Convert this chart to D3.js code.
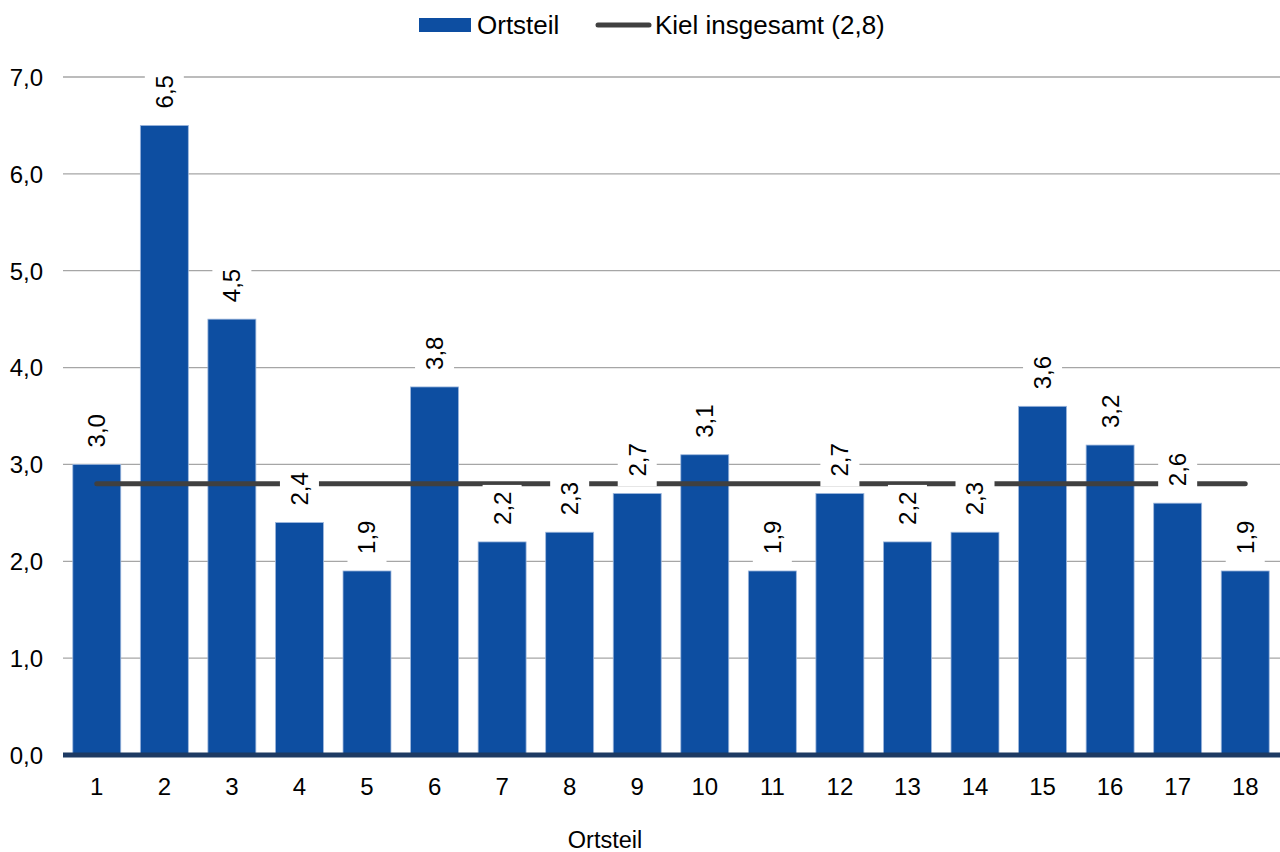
<!DOCTYPE html>
<html><head><meta charset="utf-8">
<script src="https://cdn.jsdelivr.net/npm/d3@7"></script>
<style>body{margin:0;background:#fff}svg{display:block;font-family:"Liberation Sans",Arial,sans-serif}</style>
</head><body><svg id="c" width="1280" height="852"></svg>
<script>
const categories = ["1","2","3","4","5","6","7","8","9","10","11","12","13","14","15","16","17","18"];
const ortsteilValues = [3.0,6.5,4.5,2.4,1.9,3.8,2.2,2.3,2.7,3.1,1.9,2.7,2.2,2.3,3.6,3.2,2.6,1.9];
const kielTotal = 2.8;
const yTicks = [0,1,2,3,4,5,6,7];
const seriesNames = ["Ortsteil","Kiel insgesamt (2,8)"];
const xTitle = "Ortsteil";

const FS = 24;
const fmt = v => d3.format(".1f")(v).replace(".", ",");
const svg = d3.select("#c");
const L = 63, R = 1279, T = 77, B = 755;
const x = d3.scaleBand().domain(categories).range([L, R]).paddingInner(0.29).paddingOuter(0.145);
const y = d3.scaleLinear().domain([0, 7]).range([B, T]);

// gridlines
svg.append("g").selectAll("line").data(yTicks.filter(d => d > 0)).join("line")
  .attr("x1", L).attr("x2", 1280).attr("y1", d => y(d)).attr("y2", d => y(d))
  .attr("stroke", "#a6a6a6").attr("stroke-width", 1.3);

// y axis labels
const yAxis = d3.axisLeft(y).tickValues(yTicks).tickFormat(fmt).tickSize(0).tickPadding(0);
const ya = svg.append("g").attr("transform", `translate(43,0)`).call(yAxis);
ya.select(".domain").remove();
ya.selectAll("text").attr("font-size", FS).attr("fill", "#000").attr("font-family", "Liberation Sans, Arial, sans-serif").attr("dy", "0.35em");

// bars
svg.append("g").selectAll("rect").data(ortsteilValues).join("rect")
  .attr("x", (d, i) => x(categories[i])).attr("width", x.bandwidth())
  .attr("y", d => y(d)).attr("height", d => B - y(d))
  .attr("fill", "#0d4ea1").attr("stroke", "#9db7dd").attr("stroke-width", 0.8);

// Kiel line
svg.append("line")
  .attr("x1", x(categories[0]) + x.bandwidth() / 2)
  .attr("x2", x(categories[categories.length - 1]) + x.bandwidth() / 2)
  .attr("y1", y(kielTotal)).attr("y2", y(kielTotal))
  .attr("stroke", "#404040").attr("stroke-width", 5).attr("stroke-linecap", "round");

// labels with white boxes
const lg = svg.append("g");
ortsteilValues.forEach((v, i) => {
  const cx = x(categories[i]) + x.bandwidth() / 2;
  const base = y(v) - 17;
  const tw = 34;
  lg.append("rect").attr("x", cx - 19.5).attr("width", 39)
    .attr("y", base - tw - 6).attr("height", tw + 6 + 10).attr("fill", "#fff");
  lg.append("text").attr("transform", `translate(${cx},${base}) rotate(-90)`)
    .attr("dy", "0.35em").attr("font-size", FS).attr("fill", "#000").text(fmt(v));
});

// baseline
svg.append("line").attr("x1", L).attr("x2", 1280).attr("y1", B).attr("y2", B)
  .attr("stroke", "#1d3a63").attr("stroke-width", 5);

// x axis labels
const xAxis = d3.axisBottom(x).tickSize(0).tickPadding(0);
const xa = svg.append("g").attr("transform", `translate(0,${787})`).call(xAxis);
xa.select(".domain").remove();
xa.selectAll("text").attr("font-size", FS).attr("fill", "#000").attr("font-family", "Liberation Sans, Arial, sans-serif").attr("dy", "0.35em");

svg.append("text").attr("x", 605).attr("y", 840).attr("dy", "0.35em").attr("text-anchor", "middle")
  .attr("font-size", 23.5).text(xTitle);

// legend
const leg = svg.append("g");
leg.append("rect").attr("x", 419).attr("y", 18).attr("width", 52).attr("height", 14).attr("fill", "#0d4ea1");
leg.append("text").attr("x", 477).attr("y", 24.5).attr("dy", "0.35em").attr("font-size", 26).text(seriesNames[0]);
leg.append("line").attr("x1", 598).attr("x2", 649).attr("y1", 25).attr("y2", 25)
  .attr("stroke", "#404040").attr("stroke-width", 5).attr("stroke-linecap", "round");
leg.append("text").attr("x", 655).attr("y", 24.5).attr("dy", "0.35em").attr("font-size", 26).text(seriesNames[1]);
</script></body></html>
